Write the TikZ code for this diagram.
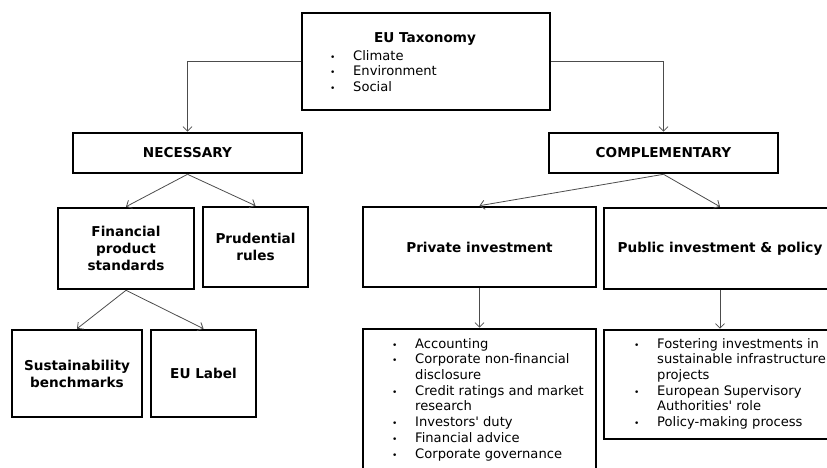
\documentclass[tikz,border=0pt]{standalone}
\usepackage{fontspec}
\setmainfont{DejaVu Sans}
\usetikzlibrary{arrows.meta}
\newcommand\bul{\makebox[23pt][l]{\fontsize{9}{9}\selectfont •}}
\newcommand\ind{\hspace*{23pt}}
\begin{document}
\begin{tikzpicture}[x=1pt,y=-1pt,
  box/.style={draw=black, line width=2.6pt, fill=white, inner sep=0pt, align=center,
    font=\fontsize{13.6}{17}\selectfont\bfseries},
  conn/.style={draw=black!70, line width=0.8pt, -{Straight Barb[length=4.5pt,width=9pt]}},
  lst/.style={anchor=north west, inner sep=0pt, align=left,
    font=\fontsize{13.1}{15.7}\selectfont},
  ttl/.style={inner sep=0pt, font=\fontsize{13.6}{17}\selectfont\bfseries}]
\useasboundingbox (0,0) rectangle (827,468);

% boxes
\node[box, minimum width=248, minimum height=97] (tax) at (426,61.5) {};
\node[ttl] (taxt) at (425,39) {EU Taxonomy};
\node[lst] (taxl) at (330,50) {\bul Climate\\\bul Environment\\\bul Social};

\node[box, minimum width=229, minimum height=40] (nec) at (187.5,153) {NECESSARY};
\node[box, minimum width=229, minimum height=40] (comp) at (663.5,153) {COMPLEMENTARY};

\node[box, minimum width=136, minimum height=81] (fps) at (126,248.5) {Financial\\product\\standards};
\node[box, minimum width=105, minimum height=80] (prud) at (255.5,247) {Prudential\\rules};

\node[box, minimum width=130, minimum height=87] (sust) at (77,373.5) {Sustainability\\benchmarks};
\node[box, minimum width=105, minimum height=87] (eul) at (203.5,373.5) {EU Label};

\node[box, minimum width=233, minimum height=80] (priv) at (479.5,247) {Private investment};
\node[box, minimum width=232, minimum height=81] (pub) at (720,248.5) {Public investment \& policy};

\node[box, minimum width=233, minimum height=151] (privlist) at (479.5,404.5) {};
\node[lst] (privt) at (392,338) {\bul Accounting\\
\bul Corporate non-financial\\
\ind disclosure\\
\bul Credit ratings and market\\
\ind research\\
\bul Investors\textquotesingle{} duty\\
\bul Financial advice\\
\bul Corporate governance};

\node[box, minimum width=232, minimum height=109] (publist) at (720,384.5) {};
\node[lst] (pubt) at (634,338) {\bul Fostering investments in\\
\ind sustainable infrastructure\\
\ind projects\\
\bul European Supervisory\\
\ind Authorities\textquotesingle{} role\\
\bul Policy-making process};

% connectors
\draw[conn] (tax.west) -| (nec.north);
\draw[conn] (tax.east) -| (comp.north);
\draw[conn] (nec.south) -- (fps.north);
\draw[conn] (nec.south) -- (prud.north);
\draw[conn] (fps.south) -- (sust.north);
\draw[conn] (fps.south) -- (eul.north);
\draw[conn] (comp.south) -- (priv.north);
\draw[conn] (comp.south) -- (pub.north);
\draw[conn] (priv.south) -- (privlist.north);
\draw[conn] (pub.south) -- (publist.north);
\end{tikzpicture}
\end{document}
